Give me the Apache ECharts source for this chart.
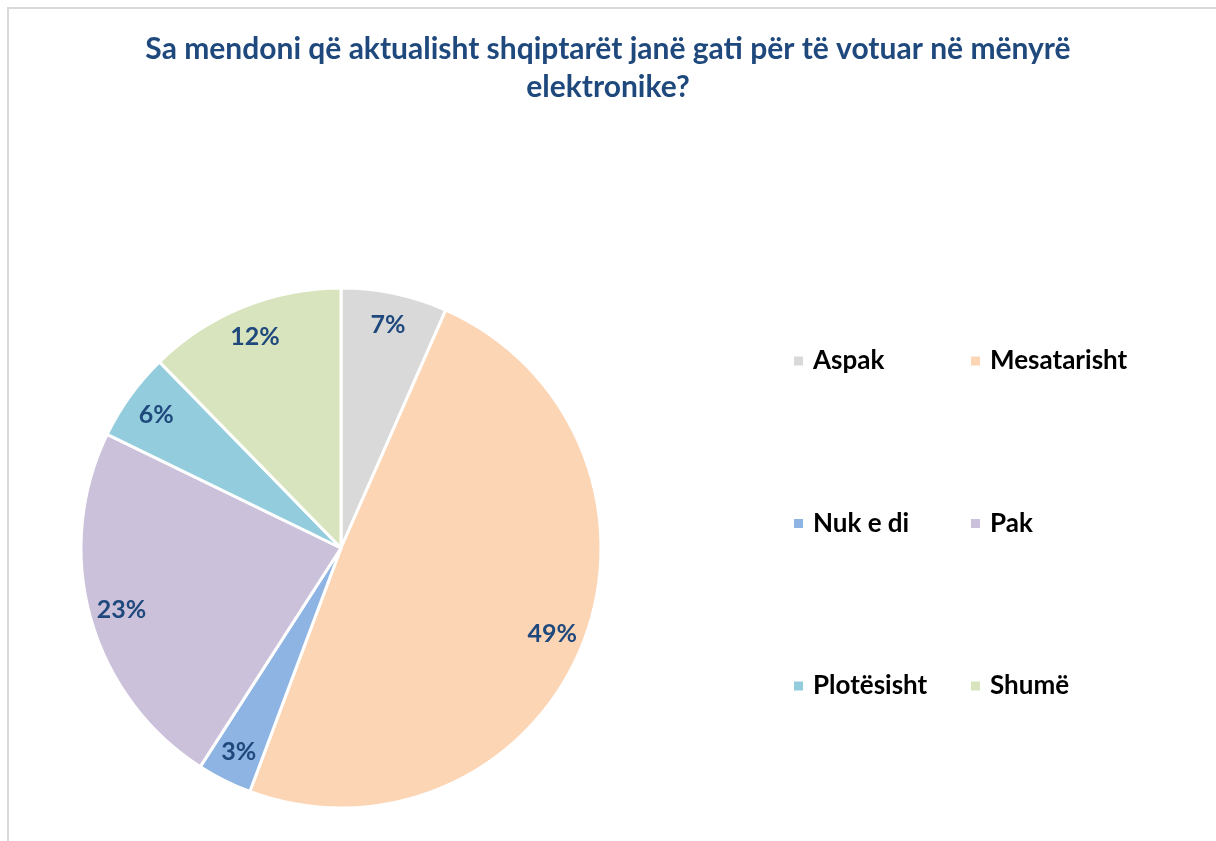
<!DOCTYPE html>
<html>
<head>
<meta charset="utf-8">
<script src="https://cdn.jsdelivr.net/npm/echarts@6/dist/echarts.min.js"></script>
<style>
html,body{margin:0;padding:0;background:#fff;}
#chart{width:1216px;height:841px;}
</style>
</head>
<body>
<div id="chart"></div>
<script>
const categories = ['Aspak', 'Mesatarisht', 'Nuk e di', 'Pak', 'Plotësisht', 'Shumë'];
const values = [6.6, 49.1, 3.4, 23.1, 5.5, 12.3];
const colors = ['#d9d9d9', '#fcd5b5', '#8eb4e3', '#ccc1da', '#93cddd', '#d7e4bd'];
const titleLines = ['Sa mendoni që aktualisht shqiptarët janë gati për të votuar në mënyrë', 'elektronike?'];

const FONT = 'Lato';
const chart = echarts.init(document.getElementById('chart'));
const pieData = categories.map((c, i) => ({ name: c, value: values[i], itemStyle: { color: colors[i] } }));
const labelData = categories.map((c, i) => ({ name: c, value: values[i] }));

const legendText = { fontFamily: FONT, fontSize: 26, fontWeight: 'bold', color: '#000', lineHeight: 26, padding: [0, 0, 0, 4] };

chart.setOption({
  animation: false,
  backgroundColor: '#fff',
  graphic: [{
    type: 'rect',
    shape: { x: 8, y: 8, width: 1300, height: 900 },
    style: { fill: 'none', stroke: '#d9d9d9', lineWidth: 2 },
    silent: true
  }],
  title: {
    text: titleLines.join('\n'),
    left: 'center',
    top: 25,
    textStyle: { fontFamily: FONT, fontSize: 30, fontWeight: 'bold', color: '#1f497d', lineHeight: 38 }
  },
  legend: [
    {
      data: [categories[0], categories[2], categories[4]],
      orient: 'vertical', left: 792, top: 348, itemGap: 136.5, padding: 0,
      itemWidth: 11, itemHeight: 11, icon: 'rect',
      textStyle: legendText
    },
    {
      data: [categories[1], categories[3], categories[5]],
      orient: 'vertical', left: 969, top: 348, itemGap: 136.5, padding: 0,
      itemWidth: 11, itemHeight: 11, icon: 'rect',
      textStyle: legendText
    }
  ],
  series: [
    {
      type: 'pie',
      center: [341, 548],
      radius: [0, 260],
      startAngle: 90,
      clockwise: true,
      itemStyle: { borderColor: '#fff', borderWidth: 3 },
      label: { show: false },
      labelLine: { show: false },
      emphasis: { disabled: true },
      data: pieData
    },
    {
      type: 'pie',
      center: [341, 548],
      radius: [200, 250],
      startAngle: 90,
      clockwise: true,
      silent: true,
      legendHoverLink: false,
      itemStyle: { color: 'rgba(0,0,0,0)' },
      label: {
        show: true, position: 'inside',
        formatter: p => Math.round(p.value) + '%',
        fontFamily: FONT, fontSize: 25, fontWeight: 'bold', color: '#1f497d'
      },
      labelLine: { show: false },
      emphasis: { disabled: true },
      data: labelData
    }
  ]
});
</script>
</body>
</html>
